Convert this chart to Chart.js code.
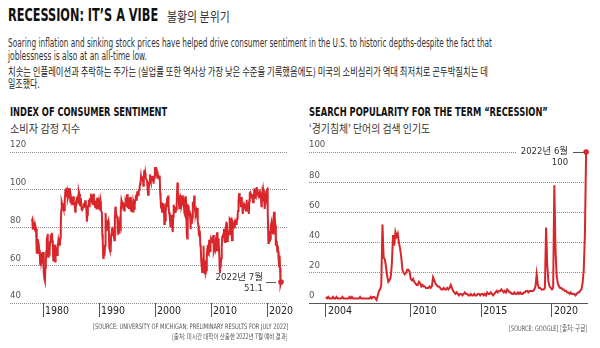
<!DOCTYPE html>
<html>
<head>
<meta charset="utf-8">
<script src="https://cdn.jsdelivr.net/npm/chart.js@4/dist/chart.umd.min.js"></script>
<style>
  body { margin: 0; width: 600px; height: 348px; background: #fff; position: relative; overflow: hidden;
         font-family: "DejaVu Sans Condensed", "Noto Sans CJK KR", sans-serif; color: #222; }
  .t { position: absolute; white-space: nowrap; transform-origin: 0 0; }
  .kr { font-family: "Noto Sans CJK KR", sans-serif; }
  canvas { position: absolute; }
</style>
</head>
<body>
<div class="t" data-w="150" style="left:8px; top:5px; font-size:17px; font-weight:bold; color:#111;">RECESSION: IT’S A VIBE</div>
<div class="t kr" data-w="63" style="left:167px; top:6px; font-size:13px; color:#333;">불황의 분위기</div>

<div class="t" data-w="484" style="left:8px; top:36px; font-size:11.5px; color:#333;">Soaring inflation and sinking stock prices have helped drive consumer sentiment in the U.S. to historic depths-despite the fact that</div>
<div class="t" data-w="139" style="left:8px; top:49px; font-size:11.5px; color:#333;">joblessness is also at an all-time low.</div>
<div class="t kr" data-w="480" style="left:8px; top:63px; font-size:11px; color:#222;">치솟는 인플레이션과 추락하는 주가는 (실업률 또한 역사상 가장 낮은 수준을 기록했음에도) 미국의 소비심리가 역대 최저치로 곤두박질치는 데</div>
<div class="t kr" data-w="32" style="left:8px; top:75px; font-size:11px; color:#222;">일조했다.</div>

<div class="t" data-w="157" style="left:10px; top:104px; font-size:12.5px; font-weight:bold; color:#111;">INDEX OF CONSUMER SENTIMENT</div>
<div class="t kr" data-w="70" style="left:10px; top:120px; font-size:11.5px; color:#333;">소비자 감정 지수</div>
<div class="t" data-w="239" style="left:309px; top:104px; font-size:12.5px; font-weight:bold; color:#111;">SEARCH POPULARITY FOR THE TERM “RECESSION”</div>
<div class="t kr" data-w="121" style="left:309px; top:120px; font-size:11.5px; color:#333;">‘경기침체’ 단어의 검색 인기도</div>

<canvas id="left" width="300" height="185" style="left:0; top:140px;"></canvas>
<canvas id="right" width="300" height="185" style="left:300px; top:140px;"></canvas>

<div class="t" data-w="195" data-r="288" style="top:322px; font-size:7.5px; color:#555;">[SOURCE: UNIVERSITY OF MICHIGAN; PRELIMINARY RESULTS FOR JULY 2022]</div>
<div class="t kr" data-w="116" data-r="288" style="top:331px; font-size:7px; color:#555;">[출처: 미시간 대학이 산출한 2022년 7월 예비 결과]</div>
<div class="t" data-w="78" data-r="587" style="top:322px; font-size:7.5px; color:#555;">[SOURCE: GOOGLE] <span class="kr">[출처: 구글]</span></div>

<script>
// University of Michigan consumer sentiment, monthly, Jan 1978 - Jul 2022
const sentimentStart = 1978;
const sentiment = [
  83.7, 84.3, 78.8, 81.6, 82.9, 80.0, 82.4, 78.4, 80.4, 79.3, 75.0, 66.1,
  72.1, 73.9, 68.4, 66.0, 68.1, 65.8, 60.4, 64.5, 66.7, 62.1, 63.3, 61.0,
  67.0, 66.9, 56.5, 52.7, 51.7, 58.7, 62.3, 67.3, 73.7, 75.0, 76.7, 64.5,
  71.4, 66.9, 66.5, 72.4, 76.3, 73.1, 74.1, 77.2, 73.1, 70.3, 62.5, 64.3,
  71.0, 66.5, 62.0, 65.5, 67.5, 65.7, 65.4, 65.4, 69.3, 73.4, 72.1, 71.9,
  70.4, 74.6, 80.8, 89.1, 93.3, 92.2, 92.8, 90.9, 89.9, 89.3, 91.1, 94.2,
  100.1, 97.4, 101.0, 96.1, 98.1, 95.5, 96.6, 99.1, 100.9, 96.3, 95.7, 92.9,
  96.0, 93.7, 93.7, 94.6, 91.8, 96.5, 94.0, 92.4, 92.1, 88.4, 90.9, 93.9,
  95.6, 95.9, 95.1, 96.2, 94.8, 99.3, 97.7, 94.9, 91.9, 95.6, 91.4, 89.1,
  90.4, 90.2, 90.8, 92.8, 91.1, 91.5, 93.7, 94.4, 93.6, 89.3, 83.1, 86.8,
  90.8, 91.6, 94.6, 91.2, 94.8, 94.7, 93.4, 97.4, 97.3, 94.1, 93.0, 91.9,
  97.9, 95.4, 94.3, 91.5, 90.7, 90.6, 92.0, 89.6, 95.8, 93.9, 90.9, 90.5,
  93.0, 89.5, 91.3, 93.9, 90.6, 88.3, 88.2, 76.4, 72.8, 63.9, 66.0, 65.5,
  66.8, 70.4, 87.7, 81.8, 78.3, 82.1, 82.9, 82.0, 83.0, 78.3, 69.1, 68.2,
  67.5, 68.8, 76.0, 77.2, 79.2, 80.4, 76.6, 76.1, 75.6, 73.3, 85.3, 91.0,
  89.3, 86.6, 85.9, 85.6, 80.3, 81.5, 77.0, 77.3, 77.9, 82.7, 81.2, 88.2,
  94.3, 93.2, 91.5, 92.6, 92.8, 91.2, 89.0, 91.7, 91.5, 92.7, 91.6, 95.1,
  97.6, 95.1, 90.3, 92.5, 89.8, 92.7, 94.4, 96.2, 88.9, 90.2, 88.2, 91.0,
  89.3, 88.5, 93.7, 92.7, 89.4, 92.4, 94.7, 95.3, 94.7, 96.5, 99.2, 96.9,
  97.4, 99.7, 100.0, 101.4, 103.2, 104.5, 107.1, 104.4, 106.0, 105.6, 107.2, 102.1,
  106.6, 110.4, 106.5, 108.7, 106.5, 105.6, 105.2, 104.4, 100.9, 97.4, 102.7, 100.5,
  103.9, 108.1, 105.7, 104.6, 106.8, 107.3, 106.0, 104.5, 107.2, 103.2, 107.2, 105.4,
  112.0, 111.3, 107.1, 109.2, 110.7, 106.4, 108.3, 107.3, 106.8, 105.8, 107.6, 98.4,
  94.7, 90.6, 91.5, 88.4, 92.0, 92.6, 92.4, 91.5, 81.8, 82.7, 83.9, 88.8,
  93.0, 90.7, 95.7, 93.0, 96.9, 92.4, 88.1, 87.6, 86.1, 80.6, 84.2, 86.7,
  82.4, 79.9, 77.6, 86.0, 92.1, 89.7, 90.9, 89.3, 87.7, 89.6, 93.7, 92.6,
  103.8, 94.4, 95.8, 94.2, 90.2, 95.6, 96.7, 95.9, 94.2, 91.7, 92.8, 97.1,
  95.5, 94.1, 92.6, 87.7, 86.9, 96.0, 96.5, 89.1, 76.9, 74.2, 81.6, 91.5,
  91.2, 86.7, 88.9, 87.4, 79.1, 84.9, 84.7, 82.0, 85.4, 93.6, 92.1, 91.7,
  96.9, 91.3, 88.4, 87.1, 88.3, 85.3, 90.4, 83.4, 83.4, 80.9, 76.1, 75.5,
  78.4, 70.8, 69.5, 62.6, 59.8, 56.4, 61.2, 63.0, 70.3, 57.6, 55.3, 60.1,
  61.2, 56.3, 57.3, 65.1, 68.7, 70.8, 66.0, 65.7, 73.5, 70.6, 67.4, 72.5,
  74.4, 73.6, 73.6, 72.2, 73.6, 76.0, 67.8, 68.9, 68.2, 67.7, 71.6, 74.5,
  74.2, 77.5, 67.5, 69.8, 74.3, 71.5, 63.7, 55.8, 59.5, 60.8, 63.7, 69.9,
  75.0, 75.3, 76.2, 76.4, 79.3, 73.2, 72.3, 74.3, 78.3, 82.6, 82.7, 72.9,
  73.8, 77.6, 78.6, 76.4, 84.5, 84.1, 85.1, 82.1, 77.5, 73.2, 75.1, 82.5,
  81.2, 81.6, 80.0, 84.1, 81.9, 82.5, 81.8, 82.5, 84.6, 86.9, 88.8, 93.6,
  98.1, 95.4, 93.0, 95.9, 90.7, 96.1, 93.1, 91.9, 87.2, 90.0, 91.3, 92.6,
  92.0, 91.7, 91.0, 89.0, 94.7, 93.5, 90.0, 89.8, 91.2, 87.2, 93.8, 98.2,
  98.5, 96.3, 96.9, 97.0, 97.1, 95.0, 93.4, 96.8, 95.1, 100.7, 98.5, 95.9,
  95.7, 99.7, 101.4, 98.8, 98.0, 98.2, 97.9, 96.2, 100.1, 98.6, 97.5, 98.3,
  91.2, 93.8, 98.4, 97.2, 100.0, 98.2, 98.4, 89.8, 93.2, 95.5, 96.8, 99.3,
  99.8, 101.0, 89.1, 71.8, 72.3, 78.1, 72.5, 74.1, 80.4, 81.8, 76.9, 80.7,
  79.0, 76.8, 84.9, 88.3, 82.9, 85.5, 81.2, 70.3, 72.8, 71.7, 67.4, 70.6,
  67.2, 62.8, 59.4, 65.2, 58.4, 50.0, 51.1
];
const sentimentYTicks = [40, 60, 80, 100, 120];
const sentimentXTicks = [1980, 1990, 2000, 2010, 2020];

// Google search interest for "recession", monthly, Jan 2004 - Jun 2022
const searchStart = 2004;
const search = [
  4, 3, 4, 3, 3, 3, 4, 3, 3, 4, 3, 3,
  3, 3, 4, 3, 3, 3, 3, 3, 4, 3, 4, 3,
  3, 3, 3, 3, 3, 4, 3, 3, 3, 3, 3, 3,
  3, 3, 4, 3, 4, 4, 3, 2, 5, 8, 9, 12,
  52, 30, 29, 24, 18, 14, 15, 17, 26, 45, 38, 47,
  44, 46, 40, 36, 30, 22, 20, 19, 20, 22, 22, 21,
  16, 15, 16, 14, 13, 12, 12, 14, 13, 11, 12, 11,
  11, 10, 10, 10, 11, 10, 11, 17, 15, 13, 12, 11,
  11, 10, 9, 9, 10, 9, 9, 10, 9, 10, 12, 10,
  8, 7, 6, 7, 6, 5, 6, 6, 5, 6, 7, 6,
  6, 5, 5, 6, 5, 5, 6, 5, 5, 6, 6, 5,
  6, 6, 5, 6, 5, 7, 6, 6, 7, 6, 5, 6,
  7, 8, 7, 8, 8, 9, 8, 7, 8, 7, 9, 8,
  7, 7, 6, 6, 7, 6, 6, 7, 6, 7, 6, 6,
  7, 7, 8, 8, 7, 8, 8, 8, 8, 9, 11, 19,
  12, 10, 10, 9, 9, 9, 10, 50, 25, 14, 11, 10,
  9, 10, 78, 35, 18, 13, 11, 10, 10, 9, 9, 8,
  8, 7, 7, 6, 7, 6, 6, 6, 5, 6, 7, 7,
  8, 9, 13, 22, 46, 100
];
const searchYTicks = [0, 20, 40, 60, 80, 100];
const searchXTicks = [2004, 2010, 2015, 2020];

const RED = '#d8262b';
const GRID = '#8a8a8a';
const AXIS = '#555';
const cond = '"DejaVu Sans Condensed", sans-serif';

// squeeze the html texts to the widths measured on the reference
document.querySelectorAll('.t[data-w]').forEach(el => {
    const w = +el.dataset.w;
    const k = w / el.offsetWidth;
    if (el.dataset.r) {
        el.style.left = (+el.dataset.r - w) + 'px';
    }
    el.style.transform = 'scaleX(' + k + ')';
});

function monthly(values, startYear) {
    return values.map((v, i) => ({ x: startYear + i / 12, y: v }));
}

function lineChart(id, points, xRange, yTicks, xTicks, pad, showBaseline, note) {
    const ctx = document.getElementById(id).getContext('2d');
    return new Chart(ctx, {
        type: 'line',
        data: {
            datasets: [{
                data: points,
                borderColor: RED,
                borderWidth: 2,
                pointRadius: 0,
                tension: 0,
            }]
        },
        options: {
            responsive: false,
            animation: false,
            layout: { padding: pad },
            plugins: { legend: { display: false }, tooltip: { enabled: false } },
            scales: {
                x: {
                    type: 'linear',
                    min: xRange[0],
                    max: xRange[1],
                    afterBuildTicks: s => { s.ticks = xTicks.map(v => ({ value: v })); },
                    afterFit: s => { s.height = 22; },
                    border: { display: showBaseline, color: AXIS, width: 1 },
                    grid: { drawOnChartArea: false, drawTicks: true, tickLength: 14, tickColor: AXIS, lineWidth: 1 },
                    ticks: {
                        align: 'start', labelOffset: 2, padding: -12, maxRotation: 0,
                        color: '#222', font: { family: cond, size: 10.5 },
                        callback: v => String(v)
                    }
                },
                y: {
                    min: yTicks[0],
                    max: yTicks[yTicks.length - 1],
                    afterBuildTicks: s => { s.ticks = yTicks.map(v => ({ value: v })); },
                    afterFit: s => { s.width = 0; },
                    border: { display: false, dash: [1, 1] },
                    grid: { color: GRID, lineWidth: 1, drawTicks: false, borderDash: [1, 1] },
                    ticks: {
                        mirror: true, padding: 0, labelOffset: -7,
                        color: '#555', font: { family: cond, size: 9.5 }
                    }
                }
            }
        },
        plugins: [{
            id: 'note',
            afterDatasetsDraw(chart) {
                const c = chart.ctx;
                const last = points[points.length - 1];
                const px = chart.scales.x.getPixelForValue(last.x);
                const py = chart.scales.y.getPixelForValue(last.y);
                note(c, px, py);
                c.save();
                c.fillStyle = RED;
                c.beginPath();
                c.arc(px, py, 2.8, 0, Math.PI * 2);
                c.fill();
                c.restore();
            }
        }]
    });
}

function drawLabel(c, lines, x, y, clear) {
    c.save();
    c.font = '9.5px "DejaVu Sans Condensed", "Noto Sans CJK KR", sans-serif';
    c.textAlign = 'right';
    c.textBaseline = 'middle';
    lines.forEach((t, i) => {
        if (clear && i === 0) {
            const w = c.measureText(t).width;
            c.fillStyle = '#fff';
            c.fillRect(x - w - 4, y - 6, w + 8, 12);
        }
        c.fillStyle = '#333';
        c.fillText(t, x, y + i * 11);
    });
    c.restore();
}

function leader(c, x1, x2, y) {
    c.save();
    c.strokeStyle = '#555';
    c.lineWidth = 1;
    c.beginPath();
    c.moveTo(x1, y + 0.5);
    c.lineTo(x2, y + 0.5);
    c.stroke();
    c.restore();
}

lineChart('left', monthly(sentiment, sentimentStart), [1974.1, 2023.75], sentimentYTicks, sentimentXTicks,
    { left: 10, right: 12, top: 12, bottom: 0 }, false,
    (c, px, py) => {
        drawLabel(c, ['2022년 7월', '51.1'], px - 18, py - 5, false);
        leader(c, px - 15, px - 5, py);
    });

lineChart('right', monthly(search, searchStart), [2002.8, 2022.48], searchYTicks, searchXTicks,
    { left: 9, right: 13, top: 12, bottom: 0 }, true,
    (c, px, py) => {
        drawLabel(c, ['2022년 6월', '100'], px - 18, py, true);
        leader(c, px - 13, px - 3, py);
    });
</script>
</body>
</html>
